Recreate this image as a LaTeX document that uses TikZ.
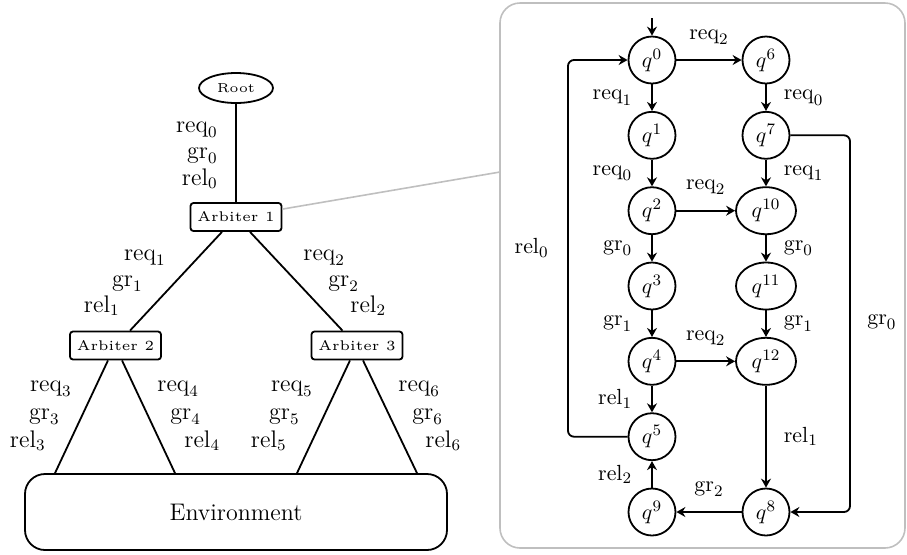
\documentclass[tikz,border=0pt]{standalone}
\usetikzlibrary{arrows.meta,shapes.geometric,calc}
\begin{document}
\begin{tikzpicture}[x=0.5pt,y=-0.5pt,
  tree/.style={line width=0.9pt},
  treebox/.style={draw, line width=0.9pt, rounded corners=1.5pt, minimum width=45.5pt, minimum height=14pt, inner sep=0pt},
  treelbl/.style={inner sep=0pt, font=\large},
  qstate/.style={circle, draw, line width=0.9pt, minimum size=23.5pt, inner sep=0pt, font=\fontsize{11}{13}\selectfont},
  qwide/.style={ellipse, draw, line width=0.9pt, minimum width=30pt, minimum height=23.5pt, inner sep=0pt, font=\fontsize{11}{13}\selectfont},
  trans/.style={-{Stealth[length=4.5pt,width=5pt,inset=1.5pt]}, line width=0.9pt},
  tlbl/.style={inner sep=0pt, font=\fontsize{11}{13}\selectfont},
  lleft/.style={tlbl, anchor=east, xshift=-9.5pt},
  lright/.style={tlbl, anchor=west, xshift=8.5pt},
  labove/.style={tlbl, anchor=base, yshift=10.5pt},
  panel/.style={draw=black!25, line width=0.8pt, rounded corners=10pt}
]
\useasboundingbox (0,0) rectangle (907,554);

% ---------- arbiter tree ----------
\node[ellipse, draw, line width=0.9pt, minimum width=37pt, minimum height=15pt, inner sep=0pt] (root) at (236,88)
  {\scalebox{1.3}{\fontsize{5}{6}\selectfont Root}};
\node[treebox] (a1) at (236,217) {\scalebox{1.4}{\fontsize{5}{6}\selectfont Arbiter 1}};
\node[treebox] (a2) at (115.5,345.5) {\scalebox{1.4}{\fontsize{5}{6}\selectfont Arbiter 2}};
\node[treebox] (a3) at (357,345.5) {\scalebox{1.4}{\fontsize{5}{6}\selectfont Arbiter 3}};
\node[draw, line width=0.9pt, rounded corners=10pt, minimum width=211pt, minimum height=38pt, font=\large] (env) at (236,512) {Environment};

\draw[tree] (root) -- (a1);
\draw[tree] ($(a1.south)+(-14,0)$) -- ($(a2.north)+(14.5,0)$);
\draw[tree] ($(a1.south)+(14,0)$) -- ($(a3.north)+(-14.5,0)$);
\draw[tree] ($(a2.south)+(-7.5,0)$) -- ($(env.north)+(-181,0)$);
\draw[tree] ($(a2.south)+(6.5,0)$) -- ($(env.north)+(-61,0)$);
\draw[tree] ($(a3.south)+(-7,0)$) -- ($(env.north)+(61,0)$);
\draw[tree] ($(a3.south)+(6,0)$) -- ($(env.north)+(181,0)$);

% signal names on the tree links
\node[treelbl, anchor=base east] (r0a) at (218,132) {$\mathrm{req}_0$};
\node[treelbl, anchor=base east] (r0b) at (218,158) {$\mathrm{gr}_0$};
\node[treelbl, anchor=base east] (r0c) at (218,185) {$\mathrm{rel}_0$};

\node[treelbl, anchor=base east] (l1a) at (166,260) {$\mathrm{req}_1$};
\node[treelbl, anchor=base east] (l1b) at (143,286) {$\mathrm{gr}_1$};
\node[treelbl, anchor=base east] (l1c) at (120,312) {$\mathrm{rel}_1$};
\node[treelbl, anchor=base west] (l2a) at (303,260) {$\mathrm{req}_2$};
\node[treelbl, anchor=base west] (l2b) at (328,286) {$\mathrm{gr}_2$};
\node[treelbl, anchor=base west] (l2c) at (350,312) {$\mathrm{rel}_2$};

\node[treelbl, anchor=base east] (l3a) at (72,391) {$\mathrm{req}_3$};
\node[treelbl, anchor=base east] (l3b) at (60,419) {$\mathrm{gr}_3$};
\node[treelbl, anchor=base east] (l3c) at (46,447) {$\mathrm{rel}_3$};
\node[treelbl, anchor=base west] (l4a) at (157,391) {$\mathrm{req}_4$};
\node[treelbl, anchor=base west] (l4b) at (170,419) {$\mathrm{gr}_4$};
\node[treelbl, anchor=base west] (l4c) at (184,447) {$\mathrm{rel}_4$};
\node[treelbl, anchor=base east] (l5a) at (313,391) {$\mathrm{req}_5$};
\node[treelbl, anchor=base east] (l5b) at (300,419) {$\mathrm{gr}_5$};
\node[treelbl, anchor=base east] (l5c) at (287,447) {$\mathrm{rel}_5$};
\node[treelbl, anchor=base west] (l6a) at (398,391) {$\mathrm{req}_6$};
\node[treelbl, anchor=base west] (l6b) at (412,419) {$\mathrm{gr}_6$};
\node[treelbl, anchor=base west] (l6c) at (425,447) {$\mathrm{rel}_6$};

% ---------- automaton panel ----------
\draw[panel] (500,3) rectangle (905,548);
\coordinate (pin) at (500,172);
\draw[draw=black!25, line width=0.8pt] (a1) -- (pin);

\node[qstate] (q0) at (652,60) {$q^{0}$};
\node[qstate] (q1) at (652,135.3) {$q^{1}$};
\node[qstate] (q2) at (652,210.7) {$q^{2}$};
\node[qstate] (q3) at (652,286) {$q^{3}$};
\node[qstate] (q4) at (652,361.3) {$q^{4}$};
\node[qstate] (q5) at (652,436.7) {$q^{5}$};
\node[qstate] (q9) at (652,512) {$q^{9}$};
\node[qstate] (q6) at (766,60) {$q^{6}$};
\node[qstate] (q7) at (766,135.3) {$q^{7}$};
\node[qwide]  (q10) at (766,210.7) {$q^{10}$};
\node[qwide]  (q11) at (766,286) {$q^{11}$};
\node[qwide]  (q12) at (766,361.3) {$q^{12}$};
\node[qstate] (q8) at (766,512) {$q^{8}$};

\coordinate (init) at (652,18);
\coordinate (lx) at (568,0);
\coordinate (rx) at (850,0);

\draw[trans] (init) -- (q0);
\draw[trans] (q0) -- node[labove] {$\mathrm{req}_2$} (q6);
\draw[trans] (q0) -- node[lleft] {$\mathrm{req}_1$} (q1);
\draw[trans] (q6) -- node[lright] {$\mathrm{req}_0$} (q7);
\draw[trans] (q1) -- node[lleft] {$\mathrm{req}_0$} (q2);
\draw[trans] (q7) -- node[lright] {$\mathrm{req}_1$} (q10);
\draw[trans] (q2) -- node[labove] {$\mathrm{req}_2$} (q10);
\draw[trans] (q2) -- node[lleft] {$\mathrm{gr}_0$} (q3);
\draw[trans] (q10) -- node[lright] {$\mathrm{gr}_0$} (q11);
\draw[trans] (q3) -- node[lleft] {$\mathrm{gr}_1$} (q4);
\draw[trans] (q11) -- node[lright] {$\mathrm{gr}_1$} (q12);
\draw[trans] (q4) -- node[labove] {$\mathrm{req}_2$} (q12);
\draw[trans] (q4) -- node[lleft] {$\mathrm{rel}_1$} (q5);
\draw[trans] (q12) -- node[lright] {$\mathrm{rel}_1$} (q8);
\draw[trans] (q8) -- node[labove] {$\mathrm{gr}_2$} (q9);
\draw[trans] (q9) -- node[lleft] {$\mathrm{rel}_2$} (q5);

\draw[trans, rounded corners=3pt] (q5.west) -| (lx |- q0.west) -- (q0.west);
\node[lleft] (rel0) at (lx |- 0,248) {$\mathrm{rel}_0$};
\draw[trans, rounded corners=3pt] (q7.east) -| (rx |- q8.east) -- (q8.east);
\node[lright] (gr0) at (rx |- 0,322) {$\mathrm{gr}_0$};
\end{tikzpicture}
\end{document}
